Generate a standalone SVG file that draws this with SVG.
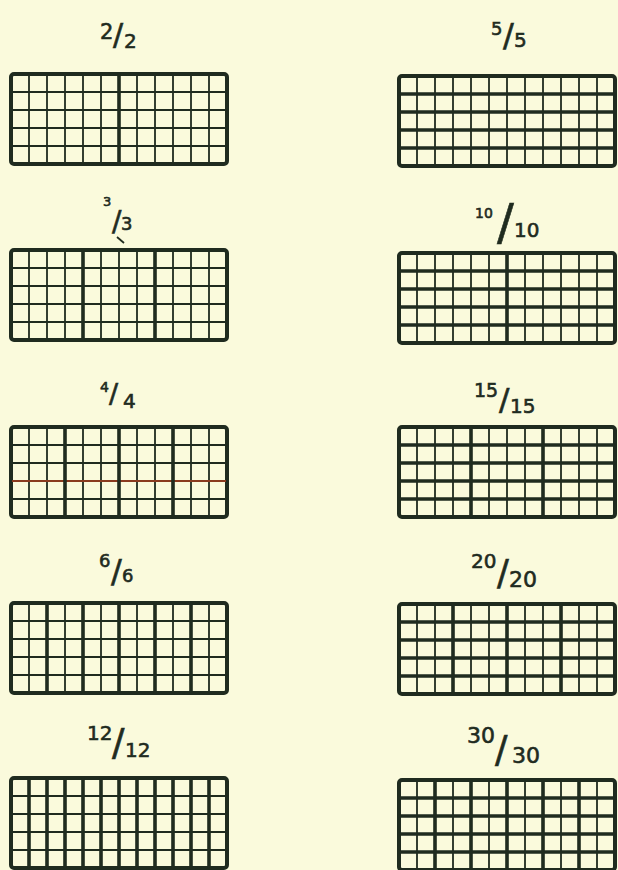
<svg xmlns="http://www.w3.org/2000/svg" xmlns:xlink="http://www.w3.org/1999/xlink" width="618" height="870" viewBox="0 0 618 870">
<style>
.bg{fill:#fafadc}
.thin{stroke:#1f2b1f;stroke-width:1.8;fill:none}
.thick{stroke:#1f2b1f;stroke-width:3.6;fill:none}
.frame{stroke:#1f2b1f;stroke-width:4;fill:none}
.lbl{font-family:"DejaVu Sans","Liberation Sans",sans-serif;fill:#1f2b1f;stroke:#1f2b1f;stroke-width:0.6}
.red{stroke:#8a3a1e;stroke-width:1.8}
</style>
<defs>
<g id="grid">
<path class="thin" d="M18 0V90M36 0V90M54 0V90M72 0V90M90 0V90M108 0V90M126 0V90M144 0V90M162 0V90M180 0V90M198 0V90M0 18H216M0 36H216M0 54H216M0 72H216"/>
<rect class="frame" x="0" y="0" width="216" height="90" rx="3"/>
</g>
</defs>
<rect class="bg" x="0" y="0" width="618" height="870"/>

<g id="n2">
<text class="lbl"><tspan x="100" y="39" font-size="21">2</tspan><tspan x="113" y="45" font-size="30">/</tspan><tspan x="124" y="48" font-size="20">2</tspan></text>
<g transform="translate(11,74)"><use xlink:href="#grid"/><path class="thick" d="M108 0V90"/></g>
</g>

<g id="n3">
<text class="lbl"><tspan x="103" y="206" font-size="13">3</tspan><tspan x="112" y="231" font-size="28">/</tspan><tspan x="121" y="230" font-size="18">3</tspan></text>
<path class="thin" d="M117 237L124 243" stroke-width="1.2"/>
<g transform="translate(11,250)"><use xlink:href="#grid"/><path class="thick" d="M72 0V90M144 0V90"/></g>
</g>

<g id="n4">
<text class="lbl"><tspan x="100" y="392" font-size="14">4</tspan><tspan x="109" y="403" font-size="27">/</tspan><tspan x="123" y="408" font-size="20">4</tspan></text>
<g transform="translate(11,427)"><use xlink:href="#grid"/><path class="red" d="M1 54H215"/><path class="thick" d="M54 0V90M108 0V90M162 0V90"/></g>
</g>

<g id="n6">
<text class="lbl"><tspan x="99" y="567" font-size="18">6</tspan><tspan x="111" y="582" font-size="32">/</tspan><tspan x="122" y="582" font-size="18">6</tspan></text>
<g transform="translate(11,603)"><use xlink:href="#grid"/><path class="thick" d="M36 0V90M72 0V90M108 0V90M144 0V90M180 0V90"/></g>
</g>

<g id="n12">
<text class="lbl"><tspan x="87" y="740" font-size="20">12</tspan><tspan x="112" y="755" font-size="37">/</tspan><tspan x="125" y="757" font-size="20">12</tspan></text>
<g transform="translate(11,778)"><use xlink:href="#grid"/><path class="thick" d="M18 0V90M36 0V90M54 0V90M72 0V90M90 0V90M108 0V90M126 0V90M144 0V90M162 0V90M180 0V90M198 0V90"/></g>
</g>

<g id="n5">
<text class="lbl"><tspan x="491" y="35" font-size="18">5</tspan><tspan x="503" y="46" font-size="32">/</tspan><tspan x="514" y="47" font-size="20">5</tspan></text>
<g transform="translate(399,76)"><use xlink:href="#grid"/><path class="thick" d="M0 18H216M0 36H216M0 54H216M0 72H216"/></g>
</g>

<g id="n10">
<text class="lbl"><tspan x="475" y="218" font-size="14">10</tspan><tspan x="497" y="239" font-size="50">/</tspan><tspan x="514" y="237" font-size="20">10</tspan></text>
<g transform="translate(399,253)"><use xlink:href="#grid"/><path class="thick" d="M0 18H216M0 36H216M0 54H216M0 72H216M108 0V90"/></g>
</g>

<g id="n15">
<text class="lbl"><tspan x="474" y="397" font-size="19">15</tspan><tspan x="499" y="410" font-size="31">/</tspan><tspan x="510" y="413" font-size="20">15</tspan></text>
<g transform="translate(399,427)"><use xlink:href="#grid"/><path class="thick" d="M0 18H216M0 36H216M0 54H216M0 72H216M72 0V90M144 0V90"/></g>
</g>

<g id="n20">
<text class="lbl"><tspan x="471" y="568" font-size="20">20</tspan><tspan x="497" y="585" font-size="35">/</tspan><tspan x="509" y="587" font-size="22">20</tspan></text>
<g transform="translate(399,604)"><use xlink:href="#grid"/><path class="thick" d="M0 18H216M0 36H216M0 54H216M0 72H216M54 0V90M108 0V90M162 0V90"/></g>
</g>

<g id="n30">
<text class="lbl"><tspan x="467" y="743" font-size="22">30</tspan><tspan x="495" y="762" font-size="37">/</tspan><tspan x="512" y="763" font-size="22">30</tspan></text>
<g transform="translate(399,780)"><use xlink:href="#grid"/><path class="thick" d="M0 18H216M0 36H216M0 54H216M0 72H216M36 0V90M72 0V90M108 0V90M144 0V90M180 0V90"/></g>
</g>
</svg>
